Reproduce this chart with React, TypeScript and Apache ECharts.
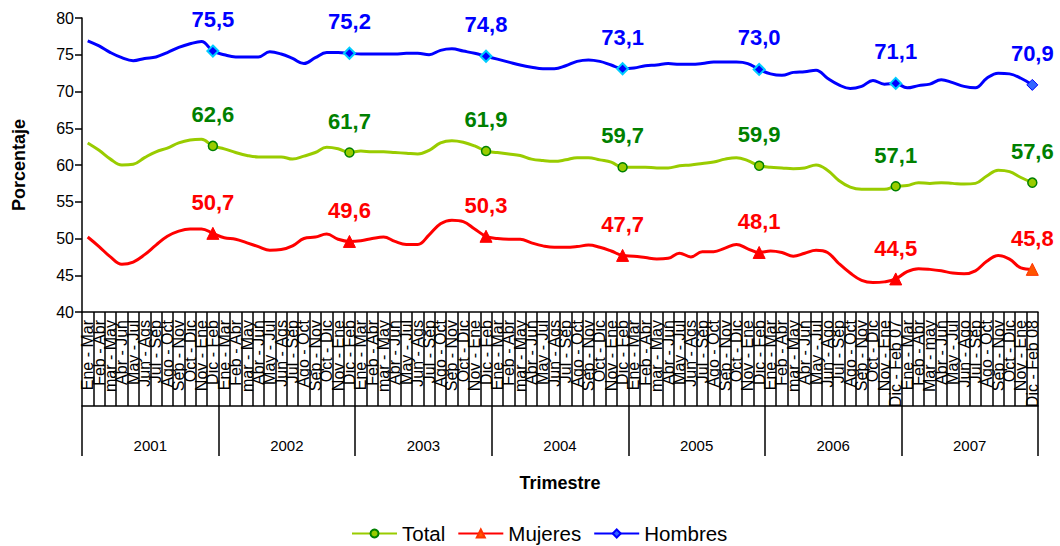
import React, { useEffect, useRef } from "react";
import * as echarts from "echarts";

const years = ["2001", "2002", "2003", "2004", "2005", "2006", "2007"];
const periodsStd = ["Ene - Mar", "Feb - Abr", "mar - May", "Abr - Jun", "May - Jul", "Jun - Ags", "Jul - Sep", "Ago - Oct", "Sep - Nov", "Oct - Dic", "Nov - Ene", "Dic - Feb"];
const periods2006 = ["Ene - Mar", "Feb - Abr", "mar - May", "Abr - Jun", "May - Jul", "Jun - Ago", "Jul - Sep", "Ago - Oct", "Sep - Nov", "Oct - Dic", "Nov - Ene", "Dic - Feb 07"];
const periods2007 = ["Ene - Mar", "Feb - Abr", "Mar - may", "Abr - Jun", "May - Jul", "Jun - Ago", "Jul - Sep", "Ago - Oct", "Sep - Nov", "Oct - Dic", "Nov - Ene", "Dic - Feb 08"];

const total = [
  63.0, 62.0, 60.8, 60.0, 60.1, 61.0, 61.8, 62.3, 63.0, 63.4, 63.5, 62.6,
  62.2, 61.7, 61.3, 61.1, 61.1, 61.1, 60.8, 61.2, 61.7, 62.4, 62.2, 61.7,
  61.9, 61.8, 61.8, 61.7, 61.6, 61.5, 62.0, 63.0, 63.3, 63.1, 62.6, 61.9,
  61.7, 61.5, 61.3, 60.8, 60.6, 60.5, 60.7, 61.0, 61.0, 60.7, 60.4, 59.7,
  59.7, 59.7, 59.6, 59.6, 59.9, 60.0, 60.2, 60.4, 60.8, 61.0, 60.6, 59.9,
  59.7, 59.6, 59.5, 59.6, 60.0, 59.3, 57.9, 57.0, 56.7, 56.7, 56.7, 57.1,
  57.2, 57.6, 57.5, 57.6, 57.5, 57.4, 57.5, 58.5, 59.3, 59.1, 58.3, 57.6,
];
const mujeres = [
  50.2, 48.9, 47.5, 46.5, 46.8, 47.8, 49.1, 50.3, 51.0, 51.3, 51.3, 50.7,
  50.1, 49.9, 49.4, 48.9, 48.4, 48.5, 49.0, 50.0, 50.2, 50.6, 49.9, 49.6,
  49.7, 50.0, 50.2, 49.6, 49.2, 49.2, 50.5, 52.0, 52.5, 52.3, 51.3, 50.3,
  50.0, 49.9, 49.9, 49.4, 49.0, 48.8, 48.8, 48.9, 49.1, 48.8, 48.3, 47.7,
  47.6, 47.4, 47.2, 47.3, 48.0, 47.5, 48.2, 48.2, 48.7, 49.2, 48.6, 48.1,
  48.3, 48.1, 47.6, 48.0, 48.4, 48.1, 46.6, 45.3, 44.3, 44.0, 44.1, 44.5,
  45.5, 45.9, 45.8, 45.6, 45.3, 45.2, 45.6, 46.9, 47.7, 47.2, 46.0, 45.8,
];
const hombres = [
  76.9, 76.2, 75.3, 74.6, 74.2, 74.5, 74.7, 75.3, 76.0, 76.5, 76.8, 75.5,
  75.0, 74.7, 74.7, 74.7, 75.4, 75.1, 74.5, 73.8, 74.6, 75.3, 75.3, 75.2,
  75.1, 75.1, 75.1, 75.1, 75.2, 75.2, 75.0, 75.6, 75.8, 75.5, 75.2, 74.8,
  74.4, 74.0, 73.6, 73.3, 73.1, 73.1, 73.5, 74.1, 74.3, 74.1, 73.6, 73.1,
  73.2, 73.5, 73.6, 73.8, 73.7, 73.7, 73.8, 74.0, 74.0, 74.0, 73.8, 73.0,
  72.4, 72.2, 72.6, 72.7, 72.9, 71.8, 70.9, 70.4, 70.7, 71.5, 71.0, 71.1,
  70.5, 70.8, 71.0, 71.6, 71.2, 70.7, 70.5, 71.8, 72.5, 72.4, 71.8, 70.9,
];

const FONT = "'Liberation Sans', Arial, sans-serif";

const categories = years.flatMap((y) =>
  y === "2006" ? periods2006 : y === "2007" ? periods2007 : periodsStd
);

const fmt = (v: number) => v.toFixed(1).replace(".", ",");

function buildData(values: number[], pointStyle: any) {
  const last = values.length - 1;
  return values.map((v, i) => {
    if (i % 12 !== 11) return { value: v, symbol: "none" };
    return {
      value: v,
      itemStyle: i === last ? undefined : pointStyle,
      label: { show: true },
    };
  });
}

export default function App() {
  const ref = useRef<HTMLDivElement>(null);
  useEffect(() => {
    const chart = echarts.init(ref.current!, null, { renderer: "svg" });
    const labelBase = {
      position: "top" as const,
      fontSize: 22,
      fontWeight: "bold" as const,
      fontFamily: FONT,
      formatter: (p: any) => fmt(p.value),
    };
    chart.setOption({
      animation: false,
      textStyle: { fontFamily: FONT },
      grid: { left: 82, right: 22, top: 18, bottom: 234 },
      legend: {
        left: 351,
        top: 523,
        padding: 0,
        itemWidth: 45,
        itemHeight: 10,
        itemGap: 12,
        textStyle: { fontSize: 20.5, color: "#000", fontFamily: FONT },
        data: ["Total", "Mujeres", "Hombres"],
      },
      xAxis: [
        {
          type: "category",
          data: categories,
          boundaryGap: true,
          axisLine: { lineStyle: { color: "#000", width: 1.5 } },
          axisTick: { show: true, interval: 0, length: 94, lineStyle: { color: "#000", width: 1.5 } },
          axisLabel: { interval: 0, rotate: 90, fontSize: 16, color: "#000", margin: 8, fontFamily: FONT },
          splitLine: { show: false },
        },
        {
          type: "category",
          data: years,
          gridIndex: 0,
          position: "bottom",
          offset: 94,
          boundaryGap: true,
          axisLine: { show: true, lineStyle: { color: "#000", width: 1.5 } },
          axisTick: { show: true, interval: 0, length: 50, lineStyle: { color: "#000", width: 1.5 } },
          axisLabel: { interval: 0, fontSize: 15, color: "#000", margin: 32, fontFamily: FONT },
          name: "Trimestre",
          nameLocation: "middle",
          nameGap: 68,
          nameTextStyle: { fontSize: 18, fontWeight: "bold", color: "#000", fontFamily: FONT },
        },
      ],
      yAxis: {
        type: "value",
        min: 40,
        max: 80,
        interval: 5,
        axisLine: { show: true, lineStyle: { color: "#000", width: 1.5 } },
        axisTick: { show: true, length: 7, lineStyle: { color: "#000", width: 1.5 } },
        axisLabel: { fontSize: 16, color: "#000", margin: 8, fontFamily: FONT },
        splitLine: { show: false },
        name: "Porcentaje",
        nameLocation: "middle",
        nameGap: 54,
        nameTextStyle: { fontSize: 18, fontWeight: "bold", color: "#000", fontFamily: FONT },
      },
      series: [
        {
          name: "Total",
          type: "line",
          smooth: 0.4,
          symbol: "circle",
          symbolSize: 9,
          data: buildData(total, null),
          lineStyle: { color: "#99CC00", width: 3 },
          itemStyle: { color: "#99CC00", borderColor: "#008000", borderWidth: 1.5 },
          label: { ...labelBase, color: "#008000", distance: 15 },
          emphasis: { disabled: true },
        },
        {
          name: "Mujeres",
          type: "line",
          smooth: 0.4,
          symbol: "triangle",
          symbolSize: 12,
          data: buildData(mujeres, { color: "#FF0000", borderColor: "#FF0000", borderWidth: 1 }),
          lineStyle: { color: "#FF0000", width: 3 },
          itemStyle: { color: "#FF5500", borderColor: "#FF3300", borderWidth: 1 },
          label: { ...labelBase, color: "#FF0000", distance: 13 },
          emphasis: { disabled: true },
        },
        {
          name: "Hombres",
          type: "line",
          smooth: 0.4,
          symbol: "diamond",
          symbolSize: 11,
          data: buildData(hombres, { color: "#0000FF", borderColor: "#00CCFF", borderWidth: 2 }),
          lineStyle: { color: "#0000FF", width: 3 },
          itemStyle: { color: "#3366FF", borderColor: "#0000FF", borderWidth: 1 },
          label: { ...labelBase, color: "#0000FF", distance: 14 },
          emphasis: { disabled: true },
        },
      ],
    });
    return () => chart.dispose();
  }, []);
  return (
    <div
      ref={ref}
      style={{ position: "absolute", left: 0, top: 0, width: 1060, height: 546 }}
    />
  );
}
